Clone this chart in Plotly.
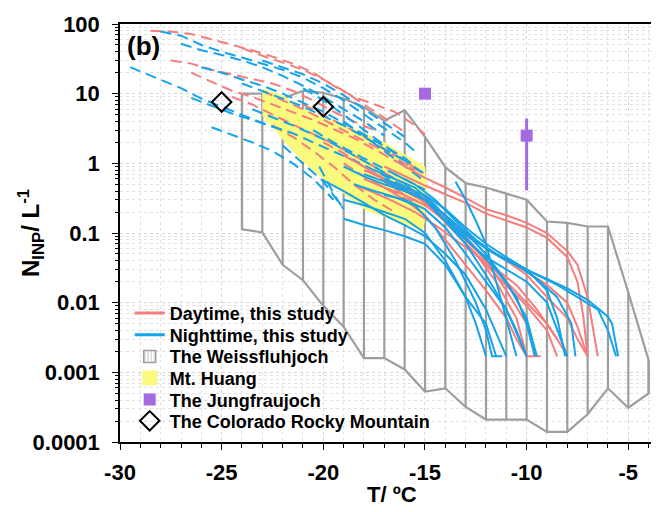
import plotly.graph_objects as go

# ---- colours ----
DAY = "rgb(245,125,125)"
NIGHT = "rgb(22,163,232)"
GREY = "rgb(158,158,158)"
YELLOW = "rgb(250,250,125)"
PURPLE = "rgb(165,105,225)"

# ---- Weissfluhjoch envelope ----
wf_T = [-24, -23, -22, -21, -20, -19, -18, -17, -16, -15, -14, -13, -12, -11, -10, -9, -8, -7, -6, -5, -4]
wf_upper = [10, 10, 8.5, 11, 10.3, 8.5, 6.4, 4.1, 5.8, 2.4, 0.88, 0.52, 0.45, 0.37, 0.30, 0.146, 0.14, 0.124, 0.124, 0.014, 0.0015]
wf_lower = [0.113, 0.102, 0.035, 0.021, 0.009, 0.0045, 0.0016, 0.0016, 0.0011, 0.00053, 0.00059, 0.00032,
            0.00021, 0.00021, 0.00021, 0.00014, 0.00014, 0.00025, 0.00059, 0.00031, 0.0005]

# ---- Mt. Huang band (closed outline) ----
mh_T = [-23, -22, -21.15, -20, -19, -17.9, -17, -16.2, -15.5, -15.0, -14.9, -15.0, -15.1,
        -16.5, -17.9, -19.5, -20.3, -21.1, -22, -23]
mh_N = [12, 9.5, 6.5, 4.6, 3.6, 2.7, 2.0, 1.45, 1.1, 0.9, 0.4, 0.15, 0.11,
        0.15, 0.21, 0.46, 0.7, 1.12, 2.2, 4.9]

# ---- Jungfraujoch ----
jf_T = [-15, -10]
jf_N = [10, 2.5]
jf_hi = [10, 4.4]
jf_lo = [10, 0.41]

# ---- Colorado Rocky Mountain ----
co_T = [-25, -20]
co_N = [7.6, 6.5]

# ---- this study: cold-end spectra (dashed) ----
day_dash_T = [
    [-28.5, -27.5, -26.5, -25.5, -24.5, -23.5, -22.5, -21.5, -20.5, -19.5, -18.5, -17.5, -16.5, -15.5, -15],
    [-27.5, -26.5, -25.5, -24.5, -23.5, -22.5, -21.5, -20.5, -19.5, -18.5, -17.5],
    [-26.5, -25.5, -24.5, -23.5, -22.5, -21.5, -20.5, -19.5, -18.5, -17.5, -16.5, -15.5],
    [-24.5, -23.5, -22.5, -21.5, -20.5, -19.5, -18.5, -17.5, -16.5, -15.5],
    [-22.5, -21.5, -20.5, -19.5, -18.5, -17.5, -16.5],
    [-24, -23, -22, -21, -20, -19, -18, -17, -16],
    [-21, -20, -19, -18, -17, -16, -15.5],
    [-20, -19, -18, -17, -16, -15],
    [-23, -22, -21, -20, -19, -18, -17, -16, -15],
    [-19, -18, -17, -16, -15.5],
]
day_dash_N = [
    [80, 78, 72, 60, 50, 42, 34, 27, 20, 13, 9, 7, 5.5, 3.5, 2.6],
    [30, 27, 22, 19, 16, 14, 11, 8, 5.5, 4, 3],
    [20, 15, 11, 9, 7, 5.5, 4.2, 3.1, 2.3, 1.6, 1.1, 0.8],
    [9, 7, 5, 3.6, 2.6, 1.9, 1.3, 0.9, 0.6, 0.45],
    [3.5, 2.4, 1.5, 0.9, 0.5, 0.3, 0.2],
    [45, 35, 28, 22, 16, 11, 7, 4.5, 2.8],
    [7, 5, 3.5, 2.4, 1.6, 1.1, 0.85],
    [2.0, 1.4, 0.9, 0.55, 0.35, 0.25],
    [11, 8, 6, 4.2, 3, 2.1, 1.5, 1.0, 0.7],
    [1.0, 0.65, 0.45, 0.32, 0.28],
]
night_dash_T = [
    [-28, -27, -26, -25, -24, -23, -22, -21, -20, -19, -18, -17, -16, -15.5],
    [-29.5, -29, -28, -27, -26, -25, -24, -23, -22],
    [-27, -26, -25, -24, -23, -22, -21, -20, -19, -18, -17],
    [-26.5, -25.5, -24.5, -23.5, -22.5, -21.5, -20.5, -19.5, -18.5, -17.5, -16.5, -15.5],
    [-25.5, -24.5, -23.5, -22.5, -21.5, -20.5, -19.5],
    [-24, -23, -22, -21, -20, -19, -18, -17, -16],
    [-21, -20, -19, -18, -17, -16, -15],
    [-26, -25, -24, -23, -22, -21, -20, -19, -18, -17, -16, -15.5],
    [-22, -21, -20, -19.5, -19],
    [-19, -18, -17, -16, -15],
    [-23, -22, -21, -20, -19, -18, -17, -16],
    [-23.5, -22.5, -21.5, -20.5, -19.5, -18.5, -17.5, -16.5],
    [-20.5, -19.5, -18.5, -17.5, -16.5, -15.5, -15],
    [-20.2, -19.8, -19.4, -19],
]
night_dash_N = [
    [78, 68, 50, 40, 33, 27, 22, 17, 12, 8, 5, 3.2, 2, 1.5],
    [24, 21, 16, 12, 8.5, 6.5, 5, 3.8, 3.0],
    [52, 42, 36, 30, 24, 18, 13, 9, 6, 4, 2.5],
    [8.7, 6.8, 5.2, 4.2, 3.4, 2.7, 2.0, 1.5, 1.1, 0.8, 0.55, 0.4],
    [3.3, 2.6, 2.0, 1.5, 1.0, 0.6, 0.3],
    [14, 11, 8.5, 6.5, 4.8, 3.5, 2.4, 1.6, 1.1],
    [12, 8, 5, 3, 1.8, 1.1, 0.7],
    [24, 20, 16, 13, 10, 7.5, 5.5, 3.8, 2.6, 1.8, 1.2, 0.9],
    [1.8, 1.0, 0.55, 0.35, 0.22],
    [4, 2.5, 1.5, 0.9, 0.55],
    [30, 24, 19, 14, 9.5, 6, 3.8, 2.4],
    [6, 4.6, 3.5, 2.6, 1.9, 1.3, 0.9, 0.6],
    [3, 2, 1.4, 1, 0.7, 0.5, 0.42],
    [0.9, 0.55, 0.33, 0.22],
]

# ---- this study: warm-end spectra (solid) ----
day_solid_T = [
    [-16.5, -16, -15, -14, -13, -12, -11, -10, -9, -8, -7.5, -7, -6.5],
    [-17, -16, -15, -14, -13, -12, -11, -10, -9, -8, -7.5, -7.2, -7],
    [-18, -17, -16, -15, -14, -13, -12, -11, -10, -9, -8, -7.5, -7],
    [-17.5, -16.5, -15.5, -14.5, -13.5, -12.5, -11.5, -10.5, -10],
    [-18, -17, -16, -15, -14, -13, -12, -11, -10.5, -10, -9.3],
    [-16, -15, -14, -13, -12, -11, -10, -9, -8.5],
    [-17, -16, -15, -14, -13, -12, -11, -10, -9, -8, -7.5, -7],
    [-19, -18, -17, -16, -15, -14, -13, -12, -11, -10, -9.5],
    [-18.5, -17.5, -16.5, -15.5, -14.5, -13.5, -12.5, -11.5, -10.5, -9.5, -8.5, -8],
    [-17, -16, -15, -14, -13, -12, -11, -10, -9, -8.5],
]
day_solid_N = [
    [1.1, 0.9, 0.62, 0.45, 0.32, 0.22, 0.18, 0.14, 0.1, 0.055, 0.035, 0.012, 0.0017],
    [0.9, 0.65, 0.48, 0.36, 0.27, 0.19, 0.15, 0.12, 0.085, 0.045, 0.02, 0.006, 0.0017],
    [0.8, 0.6, 0.45, 0.32, 0.18, 0.1, 0.06, 0.04, 0.028, 0.018, 0.01, 0.0045, 0.0017],
    [0.7, 0.5, 0.35, 0.2, 0.1, 0.05, 0.02, 0.006, 0.0017],
    [0.6, 0.45, 0.3, 0.18, 0.08, 0.035, 0.015, 0.006, 0.003, 0.0017, 0.0017],
    [0.5, 0.3, 0.15, 0.07, 0.035, 0.018, 0.009, 0.004, 0.0017],
    [0.55, 0.4, 0.28, 0.17, 0.1, 0.06, 0.04, 0.025, 0.012, 0.006, 0.003, 0.0017],
    [1.3, 0.9, 0.6, 0.42, 0.3, 0.18, 0.09, 0.04, 0.015, 0.005, 0.0017],
    [0.5, 0.38, 0.28, 0.2, 0.13, 0.08, 0.05, 0.03, 0.018, 0.008, 0.003, 0.0017],
    [0.45, 0.35, 0.25, 0.15, 0.08, 0.04, 0.02, 0.01, 0.005, 0.003],
]
night_solid_T = [
    [-15, -14, -13, -12, -11, -10, -9, -8, -7, -6, -5.8, -5.5],
    [-16, -15, -14, -13, -12, -11, -10, -9, -8.5, -8],
    [-13.5, -13, -12.5, -12, -11.5, -11, -10.5],
    [-19, -18, -17, -16, -15, -14, -13, -12, -11.5],
    [-20, -19, -18, -17, -16, -15, -14, -13, -12, -11],
    [-19, -18, -17, -16, -15, -14, -13, -12, -11, -10],
    [-18, -17, -16, -15, -14, -13, -12, -11, -10, -9.5],
    [-18.5, -17.5, -16.5, -15.5, -14.5, -13.5, -12.5, -12, -11.7, -11.2],
    [-17.5, -16.5, -15.5, -14.5, -13.5, -12.5, -11.5, -10.5, -10, -9.6],
    [-17, -16, -15, -14, -13, -12, -11, -10, -9, -8.5, -8.1],
    [-16.5, -15.5, -14.5, -13.5, -12.5, -11.5, -10.5, -9.5, -8.5, -7.8, -7.6],
    [-19, -18, -17, -16, -15, -14, -13, -12.5, -12],
    [-17, -16, -15, -14, -13, -12, -11, -10.5, -10],
    [-14.5, -13.5, -12.5, -11.5, -10.5, -9.5, -8.5, -7.5, -6.5, -6, -5.6],
]
night_solid_N = [
    [0.3, 0.18, 0.1, 0.06, 0.04, 0.03, 0.022, 0.016, 0.011, 0.0063, 0.005, 0.0017],
    [0.5, 0.3, 0.15, 0.08, 0.045, 0.03, 0.02, 0.01, 0.004, 0.0017],
    [0.55, 0.3, 0.15, 0.07, 0.02, 0.006, 0.0017],
    [0.16, 0.13, 0.11, 0.09, 0.07, 0.035, 0.012, 0.005, 0.0017],
    [0.57, 0.4, 0.27, 0.18, 0.13, 0.09, 0.05, 0.025, 0.008, 0.0017],
    [0.9, 0.65, 0.5, 0.4, 0.3, 0.15, 0.07, 0.025, 0.008, 0.0017],
    [0.7, 0.55, 0.42, 0.3, 0.18, 0.1, 0.05, 0.02, 0.006, 0.0017],
    [0.5, 0.4, 0.33, 0.25, 0.12, 0.04, 0.01, 0.004, 0.0017, 0.0017],
    [0.8, 0.6, 0.45, 0.25, 0.12, 0.06, 0.03, 0.012, 0.005, 0.0017],
    [0.6, 0.45, 0.35, 0.22, 0.12, 0.07, 0.045, 0.03, 0.015, 0.006, 0.0017],
    [0.7, 0.5, 0.3, 0.15, 0.08, 0.05, 0.035, 0.022, 0.012, 0.005, 0.0017],
    [0.3, 0.25, 0.2, 0.16, 0.1, 0.04, 0.012, 0.005, 0.0017],
    [0.35, 0.3, 0.22, 0.12, 0.05, 0.02, 0.008, 0.004, 0.0017],
    [0.2, 0.12, 0.075, 0.05, 0.035, 0.025, 0.018, 0.012, 0.008, 0.004, 0.0017],
]

x_tickvals = [-30, -25, -20, -15, -10, -5]
x_ticktext = ["-30", "-25", "-20", "-15", "-10", "-5"]
y_tickvals = [100, 10, 1, 0.1, 0.01, 0.001, 0.0001]
y_ticktext = ["100", "10", "1", "0.1", "0.01", "0.001", "0.0001"]

FONT = "Liberation Sans"
LEG_FONT = dict(family=FONT, size=18, color="black", weight="bold")

fig = go.Figure()

# Weissfluhjoch: outline + vertical hatch at every degree
wx = wf_T + wf_T[::-1] + [wf_T[0]]
wy = wf_upper + wf_lower[::-1] + [wf_upper[0]]
for t, lo, hi in zip(wf_T, wf_lower, wf_upper):
    wx += [None, t, t]
    wy += [None, lo, hi]
fig.add_trace(go.Scatter(x=wx, y=wy, mode="lines", line=dict(color=GREY, width=2.2),
                         showlegend=False, hoverinfo="skip"))

# Mt. Huang band
fig.add_trace(go.Scatter(x=mh_T, y=mh_N, mode="lines", fill="toself", fillcolor=YELLOW,
                         line=dict(width=0, color=YELLOW), showlegend=False, hoverinfo="skip"))

# spectra
for T, N in zip(day_dash_T, day_dash_N):
    fig.add_trace(go.Scatter(x=T, y=N, mode="lines", line=dict(color=DAY, width=2, dash="11px,6px"),
                             showlegend=False))
for T, N in zip(night_dash_T, night_dash_N):
    fig.add_trace(go.Scatter(x=T, y=N, mode="lines", line=dict(color=NIGHT, width=2, dash="11px,6px"),
                             showlegend=False))
for T, N in zip(day_solid_T, day_solid_N):
    fig.add_trace(go.Scatter(x=T, y=N, mode="lines", line=dict(color=DAY, width=2), showlegend=False))
for T, N in zip(night_solid_T, night_solid_N):
    fig.add_trace(go.Scatter(x=T, y=N, mode="lines", line=dict(color=NIGHT, width=2), showlegend=False))

# other sites
fig.add_trace(go.Scatter(
    x=jf_T, y=jf_N, mode="markers", name="The Jungfraujoch", legend="legend5",
    marker=dict(symbol="square", size=12, color=PURPLE),
    error_y=dict(type="data", symmetric=False,
                 array=[h - n for h, n in zip(jf_hi, jf_N)],
                 arrayminus=[n - l for l, n in zip(jf_lo, jf_N)],
                 color=PURPLE, thickness=3, width=0)))
fig.add_trace(go.Scatter(
    x=co_T, y=co_N, mode="markers", name="The Colorado Rocky Mountain", legend="legend6",
    marker=dict(symbol="diamond-open", size=15, color="black", line=dict(width=2, color="black"))))

# legend entries
fig.add_trace(go.Scatter(x=[None], y=[None], mode="lines", name="Daytime, this study",
                         line=dict(color=DAY, width=3), legend="legend"))
fig.add_trace(go.Scatter(x=[None], y=[None], mode="lines", name="Nighttime, this study",
                         line=dict(color=NIGHT, width=3), legend="legend2"))
fig.add_trace(go.Bar(x=[None], y=[None], name="The Weissfluhjoch", legend="legend3",
                     marker=dict(color="white", line=dict(color=GREY, width=1.5),
                                 pattern=dict(shape="|", fgcolor=GREY, bgcolor="white", size=4, solidity=0.35))))
fig.add_trace(go.Scatter(x=[None], y=[None], mode="markers", name="Mt. Huang", legend="legend4",
                         marker=dict(symbol="square", size=15, color=YELLOW)))

minor_y = [m * 10 ** e for e in range(-4, 2) for m in range(2, 10)]

fig.update_xaxes(range=[-30, -3.49], tickmode="array", tickvals=x_tickvals, ticktext=x_ticktext,
                 showline=True, linecolor="black", linewidth=1.5, mirror=True,
                 ticks="outside", ticklen=6, tickcolor="black", ticklabelstandoff=4,
                 tickfont=dict(family=FONT, size=22, color="black", weight="bold"),
                 showgrid=True, gridcolor="#d6d6d6", griddash="dot", zeroline=False,
                 minor=dict(dtick=1, tick0=-30, ticks="outside", ticklen=4, tickcolor="black",
                            showgrid=True, gridcolor="#e2e2e2", griddash="dot"))
fig.update_yaxes(type="log", range=[-4, 2], tickmode="array", tickvals=y_tickvals, ticktext=y_ticktext,
                 showline=True, linecolor="black", linewidth=1.5,
                 ticks="outside", ticklen=6, tickcolor="black", ticklabelstandoff=8,
                 tickfont=dict(family=FONT, size=22, color="black", weight="bold"),
                 showgrid=True, gridcolor="#d6d6d6", griddash="dot", zeroline=False,
                 minor=dict(tickmode="array", tickvals=minor_y, ticks="outside", ticklen=3, tickcolor="black",
                            showgrid=True, gridcolor="#e2e2e2", griddash="dot"))

leg_x = 0.018
leg_y = [0.308, 0.256, 0.204, 0.1524, 0.101, 0.050]
legend_names = ["legend", "legend2", "legend3", "legend4", "legend5", "legend6"]
legend_layout = {
    name: dict(x=leg_x, y=yy, xanchor="left", yanchor="middle", bgcolor="rgba(0,0,0,0)",
               font=LEG_FONT, itemwidth=30)
    for name, yy in zip(legend_names, leg_y)
}

# the page body adds an 8px offset, so the figure is 8px smaller on each side
fig.update_layout(
    width=651, height=504,
    margin=dict(l=112, r=0, t=16, b=70, autoexpand=False),
    plot_bgcolor="white", paper_bgcolor="white",
    barmode="overlay",
    annotations=[
        dict(text="(b)", x=0.009, y=0.947, xref="paper", yref="paper", xanchor="left", yanchor="middle",
             showarrow=False, font=dict(family=FONT, size=26, color="black", weight="bold")),
        dict(text="T/ ºC", x=0.505, y=-0.125, xref="paper", yref="paper", xanchor="center", yanchor="middle",
             showarrow=False, font=dict(family=FONT, size=22, color="black", weight="bold")),
        dict(text="N<sub>INP</sub>/ L<sup>-1</sup>", x=-0.165, y=0.5, xref="paper", yref="paper",
             xanchor="center", yanchor="middle", textangle=-90, showarrow=False,
             font=dict(family=FONT, size=24, color="black", weight="bold")),
    ],
    **legend_layout,
)

fig.write_html("out.html")
